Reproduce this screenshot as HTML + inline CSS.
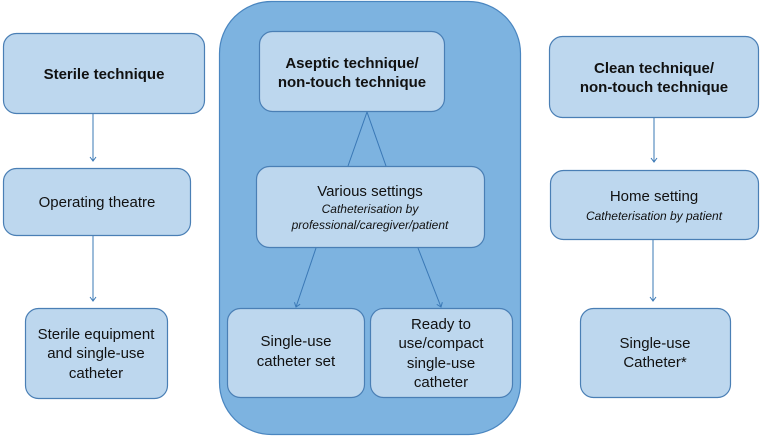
<!DOCTYPE html>
<html><head><style>
html,body{margin:0;padding:0;background:#fff;}
svg{display:block;}
text{font-family:"Liberation Sans",Arial,sans-serif;fill:#111;}
</style></head><body>
<svg width="762" height="439" viewBox="0 0 762 439" xmlns="http://www.w3.org/2000/svg">
<defs>
<marker id="a" markerWidth="8" markerHeight="8" refX="6" refY="4" orient="auto" markerUnits="userSpaceOnUse">
<path d="M2,1 L6,4 L2,7" fill="none" stroke="#3a78b5" stroke-width="1"/>
</marker>
</defs>
<g stroke="#4a7fb5" stroke-width="1.2">
<rect x="219.5" y="1.5" width="301" height="433" rx="52" fill="#7db3e0" stroke="#4a86c0"/>
<rect x="3.5" y="33.5" width="201" height="80" rx="13" fill="#bdd7ee"/>
<rect x="3.5" y="168.5" width="187" height="67" rx="13" fill="#bdd7ee"/>
<rect x="25.5" y="308.5" width="142" height="90" rx="13" fill="#bdd7ee"/>
<rect x="259.5" y="31.5" width="185" height="80" rx="13" fill="#bdd7ee"/>
<rect x="256.5" y="166.5" width="228" height="81" rx="13" fill="#bdd7ee"/>
<rect x="227.5" y="308.5" width="137" height="89" rx="13" fill="#bdd7ee"/>
<rect x="370.5" y="308.5" width="142" height="89" rx="13" fill="#bdd7ee"/>
<rect x="549.5" y="36.5" width="209" height="81" rx="13" fill="#bdd7ee"/>
<rect x="550.5" y="170.5" width="208" height="69" rx="13" fill="#bdd7ee"/>
<rect x="580.5" y="308.5" width="150" height="89" rx="13" fill="#bdd7ee"/>
</g>
<g stroke="#3a78b5" stroke-width="1" fill="none">
<line x1="93" y1="114" x2="93" y2="161" marker-end="url(#a)"/>
<line x1="93" y1="236" x2="93" y2="301" marker-end="url(#a)"/>
<line x1="654" y1="118" x2="654" y2="162" marker-end="url(#a)"/>
<line x1="653" y1="240" x2="653" y2="301" marker-end="url(#a)"/>
<line x1="367" y1="112" x2="348" y2="166"/>
<line x1="367" y1="112" x2="386" y2="166"/>
<line x1="316" y1="248" x2="296" y2="307" marker-end="url(#a)"/>
<line x1="418" y1="248" x2="441" y2="307" marker-end="url(#a)"/>
</g>
<g font-size="15" text-anchor="middle">
<text x="104" y="79" font-weight="bold" font-size="15">Sterile technique</text>
<text x="97" y="207" font-size="15">Operating theatre</text>
<text x="96" y="339" font-size="15">Sterile equipment</text>
<text x="96" y="358" font-size="15">and single-use</text>
<text x="96" y="378" font-size="15">catheter</text>
<text x="352" y="68" font-weight="bold">Aseptic technique/</text>
<text x="352" y="87" font-weight="bold">non-touch technique</text>
<text x="370" y="196" font-size="15">Various settings</text>
<text x="370" y="213" font-size="12" font-style="italic">Catheterisation by</text>
<text x="370" y="229" font-size="12" font-style="italic">professional/caregiver/patient</text>
<text x="296" y="346" font-size="15">Single-use</text>
<text x="296" y="366" font-size="15">catheter set</text>
<text x="441" y="329" font-size="15">Ready to</text>
<text x="441" y="348" font-size="15">use/compact</text>
<text x="441" y="368" font-size="15">single-use</text>
<text x="441" y="387" font-size="15">catheter</text>
<text x="654" y="73" font-weight="bold">Clean technique/</text>
<text x="654" y="92" font-weight="bold">non-touch technique</text>
<text x="654" y="201" font-size="15">Home setting</text>
<text x="654" y="220" font-size="12" font-style="italic">Catheterisation by patient</text>
<text x="655" y="348" font-size="15">Single-use</text>
<text x="655" y="367" font-size="15">Catheter*</text>
</g>
</svg>
</body></html>
